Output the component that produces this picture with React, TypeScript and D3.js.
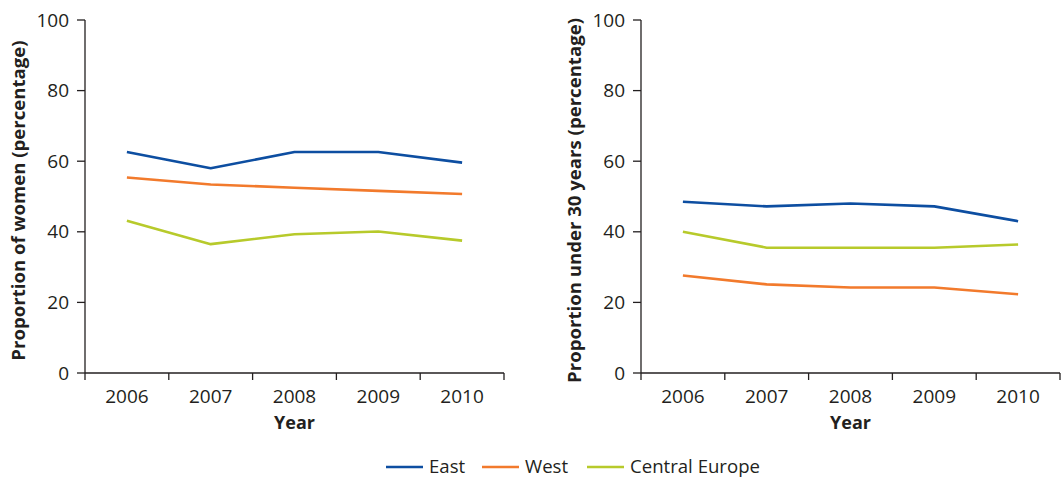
import React from "react";
import * as d3 from "d3";

const years = ["2006", "2007", "2008", "2009", "2010"];
const yTicks = [0, 20, 40, 60, 80, 100];

const womenEast = [62.6, 58.0, 62.6, 62.6, 59.6];
const womenWest = [55.4, 53.4, 52.5, 51.6, 50.7];
const womenCentral = [43.1, 36.5, 39.3, 40.1, 37.5];

const youngEast = [48.5, 47.2, 48.0, 47.2, 43.0];
const youngWest = [27.6, 25.1, 24.2, 24.2, 22.3];
const youngCentral = [40.0, 35.5, 35.5, 35.5, 36.4];

const seriesNames = ["East", "West", "Central Europe"];
const seriesColors = ["#0d4ea1", "#f27a2c", "#b7ca2b"];

const FONT = "'Open Sans', 'Noto Sans', sans-serif";
const AXIS = "#231f20";

type PanelProps = {
  left: number;
  title: string;
  data: number[][];
};

function Panel({ left, title, data }: PanelProps) {
  const x0 = left;
  const x1 = left + 419;
  const top = 20;
  const bottom = 373;
  const x = d3.scaleBand<string>().domain(years).range([x0, x1]);
  const y = d3.scaleLinear().domain([0, 100]).range([bottom, top]);
  const line = d3
    .line<number>()
    .x((_, i) => (x(years[i]) as number) + x.bandwidth() / 2)
    .y((v) => y(v));
  const tickXs = [...years.map((yr) => x(yr) as number), x1];
  return (
    <g>
      {data.map((s, i) => (
        <path
          key={i}
          d={line(s) || ""}
          fill="none"
          stroke={seriesColors[i]}
          strokeWidth={2.6}
          strokeLinejoin="round"
        />
      ))}
      <line x1={x0} x2={x0} y1={top} y2={bottom} stroke={AXIS} strokeWidth={1.3} />
      <line x1={x0} x2={x1} y1={bottom} y2={bottom} stroke={AXIS} strokeWidth={1.3} />
      {yTicks.map((t) => (
        <g key={t}>
          <line x1={x0 - 8} x2={x0} y1={y(t)} y2={y(t)} stroke={AXIS} strokeWidth={1.3} />
          <text
            x={x0 - 16}
            y={y(t)}
            dy="0.35em"
            textAnchor="end"
            fontFamily={FONT}
            fontSize={19}
            fill={AXIS}
          >
            {t}
          </text>
        </g>
      ))}
      {tickXs.map((tx, i) => (
        <line key={i} x1={tx} x2={tx} y1={bottom} y2={bottom + 7} stroke={AXIS} strokeWidth={1.3} />
      ))}
      {years.map((yr) => (
        <text
          key={yr}
          x={(x(yr) as number) + x.bandwidth() / 2}
          y={396}
          dy="0.35em"
          textAnchor="middle"
          fontFamily={FONT}
          fontSize={19}
          fill={AXIS}
        >
          {yr}
        </text>
      ))}
      <text
        x={(x0 + x1) / 2}
        y={423}
        dy="0.35em"
        textAnchor="middle"
        fontFamily={FONT}
        fontSize={18}
        fontWeight="bold"
        fill={AXIS}
      >
        Year
      </text>
      <text
        transform={`translate(${x0 - 67},${(top + bottom) / 2 + 4}) rotate(-90)`}
        dy="0.35em"
        textAnchor="middle"
        fontFamily={FONT}
        fontSize={18.6}
        fontWeight="bold"
        fill={AXIS}
      >
        {title}
      </text>
    </g>
  );
}

export default function App() {
  const legendX = [386, 482, 587];
  return (
    <svg
      width={1063}
      height={478}
      style={{ position: "absolute", left: 0, top: 0, background: "#fff" }}
    >
      <Panel left={85} title="Proportion of women (percentage)" data={[womenEast, womenWest, womenCentral]} />
      <Panel left={641} title="Proportion under 30 years (percentage)" data={[youngEast, youngWest, youngCentral]} />
      {seriesNames.map((n, i) => (
        <g key={n}>
          <line
            x1={legendX[i]}
            x2={legendX[i] + 37}
            y1={467}
            y2={467}
            stroke={seriesColors[i]}
            strokeWidth={2.6}
          />
          <text
            x={legendX[i] + 43}
            y={466}
            dy="0.35em"
            fontFamily={FONT}
            fontSize={18.6}
            fill={AXIS}
          >
            {n}
          </text>
        </g>
      ))}
    </svg>
  );
}
